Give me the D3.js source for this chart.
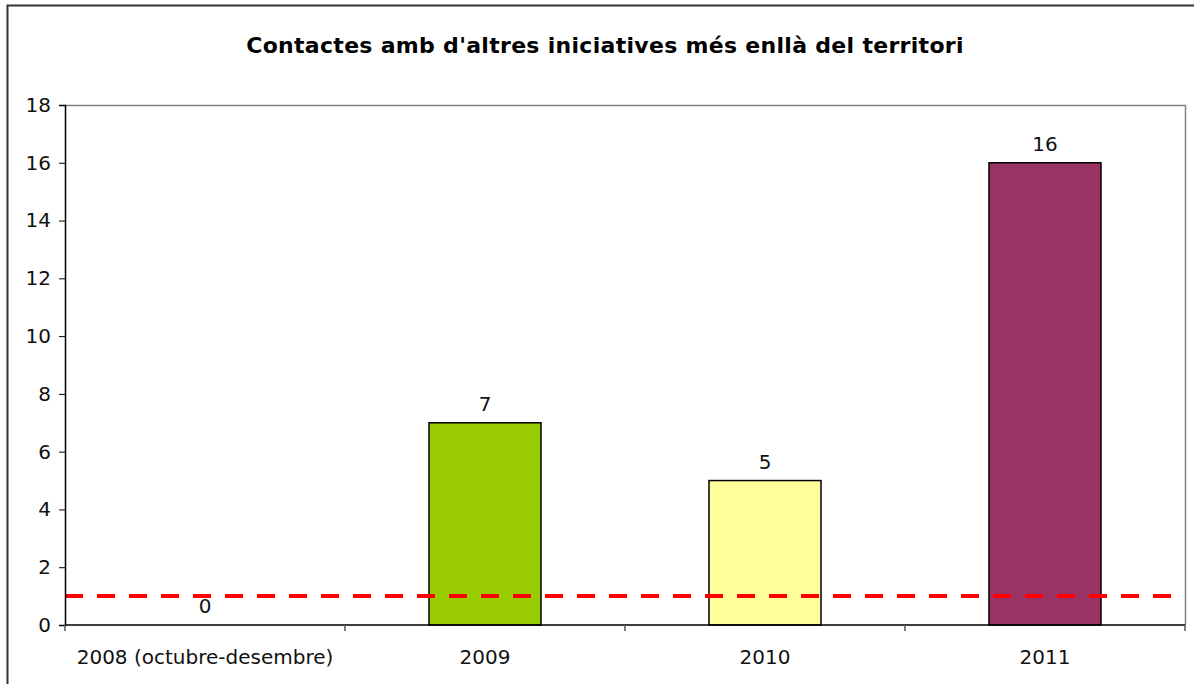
<!DOCTYPE html>
<html>
<head>
<meta charset="utf-8">
<script src="https://cdn.jsdelivr.net/npm/d3@7"></script>
<style>
  body { margin: 0; background: #fff; }
  text { font-family: "DejaVu Sans", Verdana, sans-serif; }
</style>
</head>
<body>
<div id="chart"></div>
<script>
const title = "Contactes amb d'altres iniciatives més enllà del territori";
const categories = ["2008 (octubre-desembre)", "2009", "2010", "2011"];
const values = [0, 7, 5, 16];
const barColors = ["#99cc00", "#99cc00", "#ffff99", "#993366"];
const yTicks = [0, 2, 4, 6, 8, 10, 12, 14, 16, 18];
const targetValue = 1;

const W = 1194, H = 684;
const margin = { top: 105, right: 9, bottom: 59, left: 65 },
    width = W - margin.left - margin.right,
    height = H - margin.top - margin.bottom;

const svgRoot = d3.select("#chart").append("svg")
    .attr("width", W)
    .attr("height", H);

// outer chart border
svgRoot.append("rect")
    .attr("x", 7.5).attr("y", 5.5)
    .attr("width", W).attr("height", H)
    .attr("fill", "#fff")
    .attr("stroke", "#333")
    .attr("stroke-width", 2);

svgRoot.append("text")
    .attr("x", 605).attr("y", 53)
    .attr("text-anchor", "middle")
    .style("font-size", "22px")
    .style("font-weight", "bold")
    .style("letter-spacing", "0.3px")
    .text(title);

const svg = svgRoot.append("g")
    .attr("transform", `translate(${margin.left},${margin.top})`);

const x = d3.scaleBand().domain(categories).range([0, width]).paddingInner(0.6).paddingOuter(0.3);
const xt = d3.scaleBand().domain(categories).range([0, width]);
const y = d3.scaleLinear().domain([0, 18]).range([height, 0]);

// plot area border (top/right gray)
svg.append("path")
    .attr("d", `M0,${y(18) + 0.5}H${width + 0.5}V${height}`)
    .attr("fill", "none")
    .attr("stroke", "#808080")
    .attr("stroke-width", 1.5);

// bars
svg.selectAll(".bar")
    .data(values)
    .join("rect")
    .attr("class", "bar")
    .attr("x", (d, i) => x(categories[i]))
    .attr("y", d => y(d))
    .attr("width", x.bandwidth())
    .attr("height", d => height - y(d))
    .attr("fill", (d, i) => barColors[i])
    .attr("stroke", d => d > 0 ? "#000" : "none")
    .attr("stroke-width", 1.5);

// target line
svg.append("line")
    .attr("x1", 0).attr("x2", width)
    .attr("y1", y(targetValue)).attr("y2", y(targetValue))
    .attr("stroke", "#ff0000")
    .attr("stroke-width", 4)
    .attr("stroke-dasharray", "18,14");

// value labels
svg.selectAll(".lbl")
    .data(values)
    .join("text")
    .attr("class", "lbl")
    .attr("x", (d, i) => x(categories[i]) + x.bandwidth() / 2)
    .attr("y", d => y(d) - 12)
    .attr("text-anchor", "middle")
    .style("font-size", "20px")
    .attr("fill", "#111")
    .text(d => d);

// y axis
const yAxis = svg.append("g")
    .call(d3.axisLeft(y).tickValues(yTicks).tickSize(6).tickPadding(8));
yAxis.selectAll("text").style("font-size", "20px").attr("fill", "#111");
yAxis.select(".domain").attr("stroke", "#000").attr("stroke-width", 1.5);

// x axis with ticks between categories
const xAxis = svg.append("g").attr("transform", `translate(0,${height})`);
xAxis.append("line")
    .attr("x1", 0).attr("x2", width)
    .attr("stroke", "#000").attr("stroke-width", 1.5);
xAxis.selectAll(".tk")
    .data(d3.range(categories.length + 1))
    .join("line")
    .attr("class", "tk")
    .attr("x1", i => i * xt.bandwidth()).attr("x2", i => i * xt.bandwidth())
    .attr("y1", 0).attr("y2", 6)
    .attr("stroke", "#555").attr("stroke-width", 1.5);
xAxis.selectAll(".cat")
    .data(categories)
    .join("text")
    .attr("class", "cat")
    .attr("x", d => xt(d) + xt.bandwidth() / 2)
    .attr("y", 39)
    .attr("text-anchor", "middle")
    .style("font-size", "20px")
    .attr("fill", "#111")
    .text(d => d);
</script>
</body>
</html>
